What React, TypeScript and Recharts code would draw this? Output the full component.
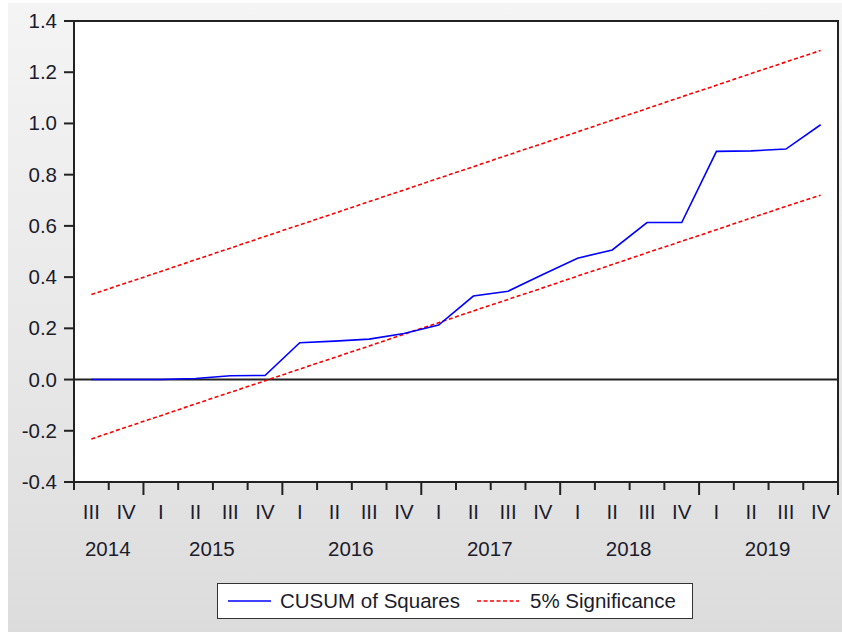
import React from "react";
import {
  ComposedChart,
  Line,
  XAxis,
  YAxis,
  CartesianGrid,
  ReferenceLine,
  ReferenceArea,
} from "recharts";

const periods = [
  "2014Q3", "2014Q4",
  "2015Q1", "2015Q2", "2015Q3", "2015Q4",
  "2016Q1", "2016Q2", "2016Q3", "2016Q4",
  "2017Q1", "2017Q2", "2017Q3", "2017Q4",
  "2018Q1", "2018Q2", "2018Q3", "2018Q4",
  "2019Q1", "2019Q2", "2019Q3", "2019Q4",
];

const cusumSquares = [
  0, 0, 0, 0.004, 0.015, 0.016, 0.144, 0.15, 0.158, 0.18, 0.213,
  0.326, 0.345, 0.41, 0.474, 0.506, 0.613, 0.613, 0.891, 0.893, 0.9, 0.995,
];

const upperBound = [
  0.332, 0.377, 0.422, 0.468, 0.513, 0.559, 0.604, 0.649, 0.695, 0.74, 0.786,
  0.831, 0.877, 0.922, 0.967, 1.013, 1.058, 1.104, 1.149, 1.195, 1.24, 1.285,
];

const lowerBound = [
  -0.232, -0.186, -0.141, -0.095, -0.05, -0.005, 0.041, 0.086, 0.131, 0.177, 0.222,
  0.268, 0.313, 0.358, 0.404, 0.449, 0.495, 0.54, 0.585, 0.631, 0.676, 0.72,
];

const yTicks = [-0.4, -0.2, 0.0, 0.2, 0.4, 0.6, 0.8, 1.0, 1.2, 1.4];
const romanQuarters: Record<string, string> = { Q1: "I", Q2: "II", Q3: "III", Q4: "IV" };
const seriesNames = ["CUSUM of Squares", "5% Significance"];

const BLUE = "#0000ff";
const RED = "#ff0000";
const INK = "#1c1c2c";
const FONT = "'Liberation Sans', Arial, sans-serif";
const FS = 20.5;

const data = periods.map((p, i) => ({
  x: i + 0.5,
  period: p,
  cusum: cusumSquares[i],
  upper: upperBound[i],
  lower: lowerBound[i],
}));

const n = periods.length;
const xTicks: number[] = [];
for (let k = 0; k <= 2 * n; k++) xTicks.push(k / 2);

// year label centers (middle of the quarters each year covers)
const yearCenters: Record<number, string> = {};
{
  const groups: Record<string, number[]> = {};
  periods.forEach((p, i) => {
    const y = p.slice(0, 4);
    (groups[y] = groups[y] || []).push(i);
  });
  Object.keys(groups).forEach((y) => {
    const idx = groups[y];
    const c = (idx[0] + idx[idx.length - 1] + 1) / 2;
    yearCenters[c] = y;
  });
}

const XTick = (props: any) => {
  const { x, y, payload } = props;
  const v = payload.value as number;
  if (Number.isInteger(v)) {
    const isYearBoundary = v === n || (periods[v] && periods[v].endsWith("Q1"));
    const len = isYearBoundary ? 13 : 8;
    const yl = yearCenters[v];
    return (
      <g>
        <line x1={x} x2={x} y1={y} y2={y + len} stroke="#222" strokeWidth={2} />
        {yl && (
          <text x={x - 1} y={y + 74} textAnchor="middle" fill={INK} fontSize={FS} fontFamily={FONT}>
            {yl}
          </text>
        )}
      </g>
    );
  }
  const idx = Math.floor(v);
  const q = periods[idx] ? romanQuarters[periods[idx].slice(4)] : "";
  return (
    <text x={x} y={y + 37} textAnchor="middle" fill={INK} fontSize={FS} fontFamily={FONT}>
      {q}
    </text>
  );
};

const YTick = (props: any) => {
  const { x, y, payload } = props;
  return (
    <text x={x} y={y + 7} textAnchor="end" fill={INK} fontSize={FS} fontFamily={FONT}>
      {Number(payload.value).toFixed(1)}
    </text>
  );
};

export default function App() {
  return (
    <div
      style={{
        position: "absolute",
        left: 0,
        top: 0,
        width: 842,
        height: 632,
        background: "#ffffff",
        fontFamily: FONT,
      }}
    >
      <div
        style={{
          position: "absolute",
          left: 8,
          top: 3,
          width: 834,
          height: 629,
          background: "linear-gradient(to bottom, #f4f4f4 0%, #e9e9e9 50%, #dcdcdc 100%)",
        }}
      />
      <div style={{ position: "absolute", left: 0, top: 0 }}>
        <ComposedChart
          width={842}
          height={632}
          data={data}
          margin={{ top: 21, right: 4, bottom: 0, left: 0 }}
        >
          <CartesianGrid fill="#ffffff" horizontal={false} vertical={false} />
          <XAxis
            type="number"
            dataKey="x"
            domain={[0, n]}
            ticks={xTicks}
            interval={0}
            tickSize={0}
            tickMargin={0}
            tickLine={false}
            height={150}
            axisLine={{ stroke: "#222", strokeWidth: 2 }}
            tick={<XTick />}
            allowDataOverflow
          />
          <YAxis
            type="number"
            domain={[-0.4, 1.4]}
            ticks={yTicks}
            interval={0}
            width={74}
            tickSize={10}
            tickMargin={7}
            tickLine={{ stroke: "#222", strokeWidth: 2 }}
            axisLine={{ stroke: "#222", strokeWidth: 2 }}
            tick={<YTick />}
            allowDataOverflow
          />
          <ReferenceLine y={0} stroke="#222" strokeWidth={2} />
          <Line
            type="linear"
            dataKey="upper"
            stroke={RED}
            strokeWidth={1.6}
            strokeDasharray="4 2.5"
            dot={false}
            isAnimationActive={false}
          />
          <Line
            type="linear"
            dataKey="lower"
            stroke={RED}
            strokeWidth={1.6}
            strokeDasharray="4 2.5"
            dot={false}
            isAnimationActive={false}
          />
          <Line
            type="linear"
            dataKey="cusum"
            stroke={BLUE}
            strokeWidth={1.6}
            dot={false}
            isAnimationActive={false}
          />
          <ReferenceArea
            x1={0}
            x2={n}
            y1={-0.4}
            y2={1.4}
            fill="none"
            stroke="#222"
            strokeWidth={2}
            ifOverflow="visible"
          />
        </ComposedChart>
      </div>
      <div
        style={{
          position: "absolute",
          left: 217,
          top: 583,
          width: 474,
          height: 34,
          background: "#fff",
          border: "1.5px solid #333",
          display: "flex",
          alignItems: "center",
          fontSize: FS,
          color: INK,
          whiteSpace: "nowrap",
        }}
      >
        <svg width={43} height={6} style={{ marginLeft: 10 }}>
          <line x1={0} x2={43} y1={3} y2={3} stroke={BLUE} strokeWidth={1.6} />
        </svg>
        <span style={{ marginLeft: 9 }}>{seriesNames[0]}</span>
        <svg width={42} height={6} style={{ marginLeft: 17 }}>
          <line x1={0} x2={42} y1={3} y2={3} stroke={RED} strokeWidth={1.6} strokeDasharray="4 2.5" />
        </svg>
        <span style={{ marginLeft: 11 }}>{seriesNames[1]}</span>
      </div>
    </div>
  );
}
